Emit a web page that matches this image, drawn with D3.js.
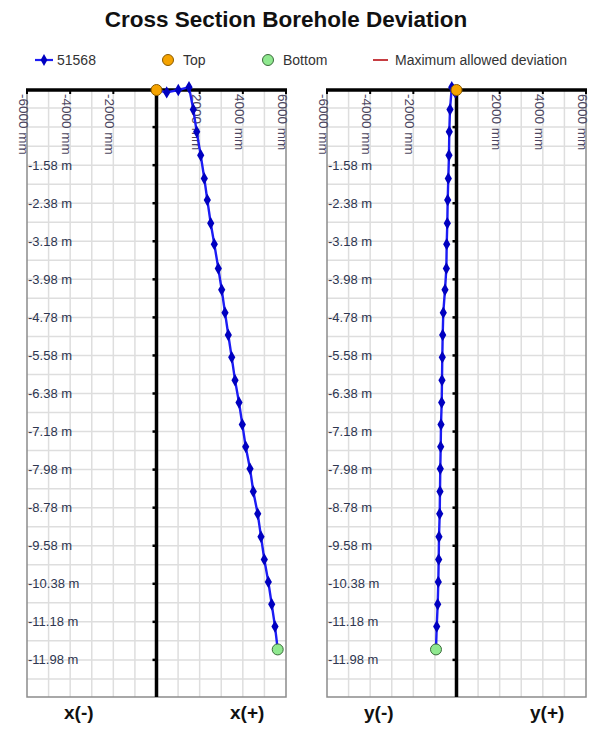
<!DOCTYPE html>
<html>
<head>
<meta charset="utf-8">
<script src="https://cdn.jsdelivr.net/npm/d3@7"></script>
<style>
  body { margin: 0; background: #fff; }
  svg { display: block; font-family: "Liberation Sans", Arial, sans-serif; }
</style>
</head>
<body>
<script>
const width = 597;
const height = 729;

// borehole survey
const seriesName = "51568";
const depth = [
  0, -0.05, 0, 0.06, -0.41, -0.88, -1.37, -1.86, -2.31, -2.8,
  -3.24, -3.75, -4.2, -4.68, -5.15, -5.62, -6.1, -6.57, -7.03, -7.5,
  -7.96, -8.44, -8.91, -9.39, -9.87, -10.34, -10.81, -11.28, -11.76
];
const offsetX = [
  0, 473, 1010, 1506, 1705, 1863, 2048, 2215, 2354, 2512,
  2678, 2864, 3021, 3174, 3327, 3485, 3638, 3823, 3976, 4133,
  4333, 4485, 4690, 4842, 4995, 5181, 5338, 5491, 5616
];
const offsetY = [
  0, -60, -130, -220, -301, -334, -348, -380, -408, -426,
  -454, -470, -533, -612, -640, -658, -672, -686, -718, -732,
  -751, -765, -778, -811, -825, -843, -871, -917, -950
];

const depthTicks = [
  -0.78, -1.58, -2.38, -3.18, -3.98, -4.78, -5.58, -6.38,
  -7.18, -7.98, -8.78, -9.58, -10.38, -11.18, -11.98
];
const depthLabels = [
  -1.58, -2.38, -3.18, -3.98, -4.78, -5.58, -6.38,
  -7.18, -7.98, -8.78, -9.58, -10.38, -11.18, -11.98
];
const mmTicks = [-6000, -4000, -2000, 2000, 4000, 6000];
const legendItems = [seriesName, "Top", "Bottom", "Maximum allowed deviation"];
const panels = [
  { values: offsetX, left: 27, neg: "x(-)", pos: "x(+)" },
  { values: offsetY, left: 327, neg: "y(-)", pos: "y(+)" }
];

const plotTop = 90;
const plotBottom = 697;
const plotWidth = 259;
const blue = "#1c1cf5";
const markBlue = "#0000c0";

function main() {
  const svg = d3.select("body")
    .append("svg")
    .attr("width", width)
    .attr("height", height);

  svg.append("text")
    .attr("x", 286)
    .attr("y", 27)
    .attr("text-anchor", "middle")
    .attr("font-size", 22.5)
    .attr("font-weight", "bold")
    .attr("fill", "#111")
    .text("Cross Section Borehole Deviation");

  drawLegend(svg);

  const y = d3.scaleLinear().domain([0, -12.76]).range([plotTop, plotBottom]);

  panels.forEach(p => drawPanel(svg, p, y));
}

function drawLegend(svg) {
  const g = svg.append("g").attr("font-size", 14).attr("fill", "#333");
  const cy = 60;

  g.append("line")
    .attr("x1", 35).attr("x2", 53).attr("y1", cy).attr("y2", cy)
    .attr("stroke", blue).attr("stroke-width", 2.2);
  g.append("path")
    .attr("d", d3.symbol(d3.symbolDiamond, 40)())
    .attr("transform", `translate(44,${cy})`)
    .attr("fill", markBlue);
  g.append("text").attr("x", 57).attr("y", cy + 5).text(legendItems[0]);

  g.append("circle")
    .attr("cx", 168).attr("cy", cy).attr("r", 5.5)
    .attr("fill", "#f5a300").attr("stroke", "#8a5a00");
  g.append("text").attr("x", 183).attr("y", cy + 5).text(legendItems[1]);

  g.append("circle")
    .attr("cx", 268).attr("cy", cy).attr("r", 5.5)
    .attr("fill", "#8fe88f").attr("stroke", "#3c6a3c");
  g.append("text").attr("x", 283).attr("y", cy + 5).text(legendItems[2]);

  g.append("line")
    .attr("x1", 373).attr("x2", 388).attr("y1", cy).attr("y2", cy)
    .attr("stroke", "#c0282d").attr("stroke-width", 1.8);
  g.append("text").attr("x", 395).attr("y", cy + 5).text(legendItems[3]);
}

function drawPanel(svg, p, y) {
  const x = d3.scaleLinear()
    .domain([-6000, 6000])
    .range([p.left, p.left + plotWidth]);
  const g = svg.append("g");

  // grid
  g.append("g")
    .selectAll("line")
    .data(d3.range(-5000, 6000, 1000))
    .join("line")
    .attr("x1", d => x(d)).attr("x2", d => x(d))
    .attr("y1", plotTop).attr("y2", plotBottom)
    .attr("stroke", "#dedede").attr("stroke-width", 1.5);
  g.append("g")
    .selectAll("line")
    .data(d3.range(-0.38, -12.7, -0.4))
    .join("line")
    .attr("x1", x(-6000)).attr("x2", x(6000))
    .attr("y1", d => y(d)).attr("y2", d => y(d))
    .attr("stroke", "#dedede").attr("stroke-width", 1.5);

  // frame
  g.append("path")
    .attr("d", `M${x(-6000)},${plotTop}V${plotBottom}H${x(6000)}V${plotTop}`)
    .attr("fill", "none").attr("stroke", "#8c8c8c").attr("stroke-width", 1.5);
  g.append("line")
    .attr("x1", x(-6000) - 1).attr("x2", x(6000) + 1)
    .attr("y1", plotTop).attr("y2", plotTop)
    .attr("stroke", "#000").attr("stroke-width", 3.5);
  g.append("line")
    .attr("x1", x(0)).attr("x2", x(0))
    .attr("y1", plotTop).attr("y2", plotBottom)
    .attr("stroke", "#000").attr("stroke-width", 3.5);

  // tick marks
  g.append("g")
    .selectAll("line")
    .data(mmTicks)
    .join("line")
    .attr("x1", d => x(d)).attr("x2", d => x(d))
    .attr("y1", plotTop).attr("y2", plotTop + 4)
    .attr("stroke", "#000").attr("stroke-width", 2);
  g.append("g")
    .selectAll("line")
    .data(depthTicks)
    .join("line")
    .attr("x1", x(0) - 4).attr("x2", x(0))
    .attr("y1", d => y(d)).attr("y2", d => y(d))
    .attr("stroke", "#000").attr("stroke-width", 2.5);

  // mm labels, rotated
  g.append("g")
    .attr("font-size", 13.5)
    .attr("fill", "#4c4660")
    .selectAll("text")
    .data(mmTicks)
    .join("text")
    .attr("transform", d => `translate(${x(d) - 8},${plotTop + 4}) rotate(90)`)
    .text(d => `${d} mm`);

  // depth labels
  g.append("g")
    .attr("font-size", 13)
    .attr("fill", "#2e3650")
    .selectAll("text")
    .data(depthLabels)
    .join("text")
    .attr("x", x(-6000) + 1)
    .attr("y", d => y(d) + 4.5)
    .text(d => `${d.toFixed(2)} m`);

  // borehole trace
  const pts = depth.map((d, i) => [x(p.values[i]), y(d)]);
  g.append("path")
    .attr("d", d3.line()(pts))
    .attr("fill", "none")
    .attr("stroke", blue)
    .attr("stroke-width", 2.4);
  g.append("g")
    .selectAll("path")
    .data(pts.slice(1, -1))
    .join("path")
    .attr("d", d3.symbol(d3.symbolDiamond, 45)())
    .attr("transform", d => `translate(${d[0]},${d[1]})`)
    .attr("fill", markBlue);
  g.append("circle")
    .attr("cx", pts[0][0]).attr("cy", pts[0][1]).attr("r", 5.5)
    .attr("fill", "#f5a300").attr("stroke", "#8a5a00");
  g.append("circle")
    .attr("cx", pts[pts.length - 1][0]).attr("cy", pts[pts.length - 1][1]).attr("r", 5.5)
    .attr("fill", "#8fe88f").attr("stroke", "#3c6a3c");

  // bottom labels
  g.append("g")
    .attr("font-size", 19)
    .attr("font-weight", "bold")
    .attr("fill", "#111")
    .attr("text-anchor", "middle")
    .selectAll("text")
    .data([[-3600, p.neg], [4200, p.pos]])
    .join("text")
    .attr("x", d => x(d[0]))
    .attr("y", 719)
    .text(d => d[1]);
}

main();
</script>
</body>
</html>
